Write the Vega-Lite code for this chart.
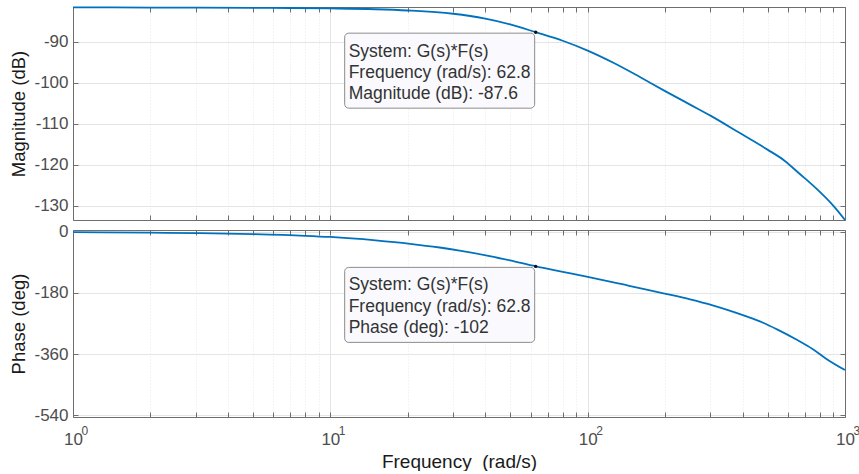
{
  "$schema": "https://vega.github.io/schema/vega-lite/v6.json",
  "background": "white",
  "padding": {"left": 9, "top": 3, "right": 10, "bottom": 0},
  "spacing": -2,
  "config": {
    "font": "Liberation Sans",
    "view": {"stroke": null},
    "axis": {
      "domainColor": "#6e6e6e",
      "domainWidth": 1,
      "tickColor": "#6e6e6e",
      "tickWidth": 1,
      "tickSize": -5,
      "labelFont": "Liberation Sans",
      "labelFontSize": 17,
      "labelColor": "#4d4d4d",
      "titleFont": "Liberation Sans",
      "titleFontSize": 18.5,
      "titleFontWeight": "normal",
      "titleColor": "#1a1a1a",
      "gridColor": "#e4e4e4",
      "gridWidth": 1,
      "gridOpacity": 1
    }
  },
  "datasets": {
    "mag": [
      {"freq": 1, "value": -81.55}, {"freq": 2, "value": -81.58}, {"freq": 3, "value": -81.6},
      {"freq": 5, "value": -81.65}, {"freq": 7, "value": -81.7}, {"freq": 10, "value": -81.8},
      {"freq": 15, "value": -82.0}, {"freq": 20, "value": -82.3}, {"freq": 30, "value": -83.1},
      {"freq": 40, "value": -84.3}, {"freq": 50, "value": -85.7}, {"freq": 62.8, "value": -87.6},
      {"freq": 80, "value": -89.7}, {"freq": 100, "value": -92.1}, {"freq": 127, "value": -95.2},
      {"freq": 159, "value": -98.5}, {"freq": 200, "value": -102.0}, {"freq": 250, "value": -105.3},
      {"freq": 300, "value": -108.0}, {"freq": 389, "value": -112.2}, {"freq": 500, "value": -116.3},
      {"freq": 582, "value": -119.0}, {"freq": 666, "value": -122.2}, {"freq": 782, "value": -126.1},
      {"freq": 900, "value": -130.0}, {"freq": 1000, "value": -133.5}
    ],
    "phase": [
      {"freq": 1, "value": -1.2}, {"freq": 2, "value": -2.8}, {"freq": 3, "value": -4.3},
      {"freq": 5, "value": -7.2}, {"freq": 8, "value": -12}, {"freq": 10, "value": -15.5},
      {"freq": 15, "value": -25.5}, {"freq": 20.4, "value": -35.5}, {"freq": 26.6, "value": -46.5},
      {"freq": 31.8, "value": -55.5}, {"freq": 41.6, "value": -71.5}, {"freq": 50, "value": -84.5},
      {"freq": 62.8, "value": -102}, {"freq": 80, "value": -118}, {"freq": 99, "value": -132},
      {"freq": 130, "value": -151}, {"freq": 145, "value": -159}, {"freq": 195, "value": -180.6},
      {"freq": 250, "value": -199}, {"freq": 306, "value": -216.6}, {"freq": 356, "value": -232},
      {"freq": 414, "value": -249}, {"freq": 478, "value": -267}, {"freq": 547, "value": -288},
      {"freq": 650, "value": -318}, {"freq": 748, "value": -345}, {"freq": 850, "value": -375},
      {"freq": 1000, "value": -407}
    ],
    "tips": [
      {"panel": "mag", "freq": 62.8, "value": -87.6, "quantity": "Magnitude (dB)"},
      {"panel": "phase", "freq": 62.8, "value": -102, "quantity": "Phase (deg)"}
    ],
    "decades": [
      {"freq": 1, "exponent": "0"}, {"freq": 10, "exponent": "1"},
      {"freq": 100, "exponent": "2"}, {"freq": 1000, "exponent": "3"}
    ]
  },
  "vconcat": [
    {
      "width": 772,
      "height": 213,
      "layer": [
        {
          "data": {"name": "mag"},
          "mark": {"type": "line", "color": "#0072BD", "strokeWidth": 1.8, "interpolate": "monotone"},
          "encoding": {
            "x": {
              "field": "freq", "type": "quantitative",
              "scale": {"type": "log", "domain": [1, 1000]},
              "axis": {
                "orient": "bottom", "title": null, "labels": false,
                "values": [1,2,3,4,5,6,7,8,9,10,20,30,40,50,60,70,80,90,100,200,300,400,500,600,700,800,900,1000],
                "grid": true,
                "gridDash": {"condition": {"test": "indexof([1,10,100,1000], datum.value) >= 0", "value": []}, "value": [1, 2]},
                "gridColor": {"condition": {"test": "indexof([1,10,100,1000], datum.value) >= 0", "value": "#e4e4e4"}, "value": "#e8e8e8"}
              }
            },
            "y": {
              "field": "value", "type": "quantitative",
              "scale": {"domain": [-133.5, -81.45], "nice": false, "zero": false},
              "axis": {
                "orient": "left", "title": "Magnitude (dB)",
                "values": [-130, -120, -110, -100, -90],
                "labelExpr": "'' + datum.value",
                "grid": true, "labelPadding": 10, "titlePadding": 5
              }
            }
          }
        },
        {
          "data": {"name": "tips"},
          "transform": [{"filter": "datum.panel == 'mag'"}],
          "mark": {
            "type": "point", "filled": true, "opacity": 1, "size": 4,
            "shape": "M -187 1 L -5 1 A 4 4 0 0 1 -1 5 L -1 72 A 4 4 0 0 1 -5 76 L -187 76 A 4 4 0 0 1 -191 72 L -191 5 A 4 4 0 0 1 -187 1 Z",
            "fill": "#fafafe", "stroke": "#8c8c8c", "strokeWidth": 1
          },
          "encoding": {
            "x": {
              "field": "freq", "type": "quantitative",
              "axis": {
                "orient": "top", "title": null, "labels": false, "grid": false,
                "values": [1,2,3,4,5,6,7,8,9,10,20,30,40,50,60,70,80,90,100,200,300,400,500,600,700,800,900,1000]
              }
            },
            "y": {
              "field": "value", "type": "quantitative",
              "axis": {"orient": "right", "title": null, "labels": false, "grid": false, "values": [-130, -120, -110, -100, -90]}
            }
          }
        },
        {
          "data": {"name": "tips"},
          "transform": [{"filter": "datum.panel == 'mag'"}],
          "mark": {"type": "point", "filled": true, "opacity": 1, "size": 12, "color": "#111111"},
          "encoding": {
            "x": {"field": "freq", "type": "quantitative", "axis": null},
            "y": {"field": "value", "type": "quantitative", "axis": null}
          }
        },
        {
          "data": {"name": "tips"},
          "transform": [
            {"filter": "datum.panel == 'mag'"},
            {"calculate": "['System: G(s)*F(s)', 'Frequency (rad/s): ' + datum.freq, datum.quantity + ': ' + datum.value]", "as": "lines"}
          ],
          "mark": {
            "type": "text", "align": "left", "baseline": "middle", "dx": -187, "dy": 20,
            "font": "Liberation Sans", "fontSize": 17.5, "lineHeight": 21, "color": "#333333"
          },
          "encoding": {
            "x": {"field": "freq", "type": "quantitative", "axis": null},
            "y": {"field": "value", "type": "quantitative", "axis": null},
            "text": {"field": "lines"}
          }
        }
      ]
    },
    {
      "width": 772,
      "height": 187,
      "layer": [
        {
          "data": {"name": "phase"},
          "mark": {"type": "line", "color": "#0072BD", "strokeWidth": 1.8, "interpolate": "monotone"},
          "encoding": {
            "x": {
              "field": "freq", "type": "quantitative",
              "scale": {"type": "log", "domain": [1, 1000]},
              "axis": {
                "orient": "bottom", "title": "Frequency \u00a0(rad/s)",
                "titleFontSize": 19,
                "values": [1,2,3,4,5,6,7,8,9,10,20,30,40,50,60,70,80,90,100,200,300,400,500,600,700,800,900,1000],
                "labelExpr": "indexof([1,10,100,1000], datum.value) >= 0 ? '10' : ''",
                "labelOverlap": false, "labelFlush": false, "labelBound": false,
                "labelDx": -3,
                "labelPadding": 19, "titlePadding": 5,
                "grid": true,
                "gridDash": {"condition": {"test": "indexof([1,10,100,1000], datum.value) >= 0", "value": []}, "value": [1, 2]},
                "gridColor": {"condition": {"test": "indexof([1,10,100,1000], datum.value) >= 0", "value": "#e4e4e4"}, "value": "#e8e8e8"}
              }
            },
            "y": {
              "field": "value", "type": "quantitative",
              "scale": {"domain": [-545, 5], "nice": false, "zero": false},
              "axis": {
                "orient": "left", "title": "Phase (deg)",
                "values": [-540, -360, -180, 0],
                "labelExpr": "'' + datum.value",
                "grid": true, "labelPadding": 10, "titlePadding": 5
              }
            }
          }
        },
        {
          "data": {"name": "tips"},
          "transform": [{"filter": "datum.panel == 'phase'"}],
          "mark": {
            "type": "point", "filled": true, "opacity": 1, "size": 4,
            "shape": "M -187 1 L -5 1 A 4 4 0 0 1 -1 5 L -1 72 A 4 4 0 0 1 -5 76 L -187 76 A 4 4 0 0 1 -191 72 L -191 5 A 4 4 0 0 1 -187 1 Z",
            "fill": "#fafafe", "stroke": "#8c8c8c", "strokeWidth": 1
          },
          "encoding": {
            "x": {
              "field": "freq", "type": "quantitative",
              "axis": {
                "orient": "top", "title": null, "labels": false, "grid": false,
                "values": [1,2,3,4,5,6,7,8,9,10,20,30,40,50,60,70,80,90,100,200,300,400,500,600,700,800,900,1000]
              }
            },
            "y": {
              "field": "value", "type": "quantitative",
              "axis": {"orient": "right", "title": null, "labels": false, "grid": false, "values": [-540, -360, -180, 0]}
            }
          }
        },
        {
          "data": {"name": "tips"},
          "transform": [{"filter": "datum.panel == 'phase'"}],
          "mark": {"type": "point", "filled": true, "opacity": 1, "size": 12, "color": "#111111"},
          "encoding": {
            "x": {"field": "freq", "type": "quantitative", "axis": null},
            "y": {"field": "value", "type": "quantitative", "axis": null}
          }
        },
        {
          "data": {"name": "tips"},
          "transform": [
            {"filter": "datum.panel == 'phase'"},
            {"calculate": "['System: G(s)*F(s)', 'Frequency (rad/s): ' + datum.freq, datum.quantity + ': ' + datum.value]", "as": "lines"}
          ],
          "mark": {
            "type": "text", "align": "left", "baseline": "middle", "dx": -187, "dy": 19,
            "font": "Liberation Sans", "fontSize": 17.5, "lineHeight": 21.5, "color": "#333333"
          },
          "encoding": {
            "x": {"field": "freq", "type": "quantitative", "axis": null},
            "y": {"field": "value", "type": "quantitative", "axis": null},
            "text": {"field": "lines"}
          }
        },
        {
          "data": {"name": "decades"},
          "mark": {
            "type": "text", "align": "left", "baseline": "middle", "dx": 8.5, "dy": 13.5,
            "font": "Liberation Sans", "fontSize": 12, "color": "#4d4d4d"
          },
          "encoding": {
            "x": {"field": "freq", "type": "quantitative", "axis": null},
            "y": {"datum": -545, "type": "quantitative", "axis": null},
            "text": {"field": "exponent"}
          }
        }
      ]
    }
  ]
}
